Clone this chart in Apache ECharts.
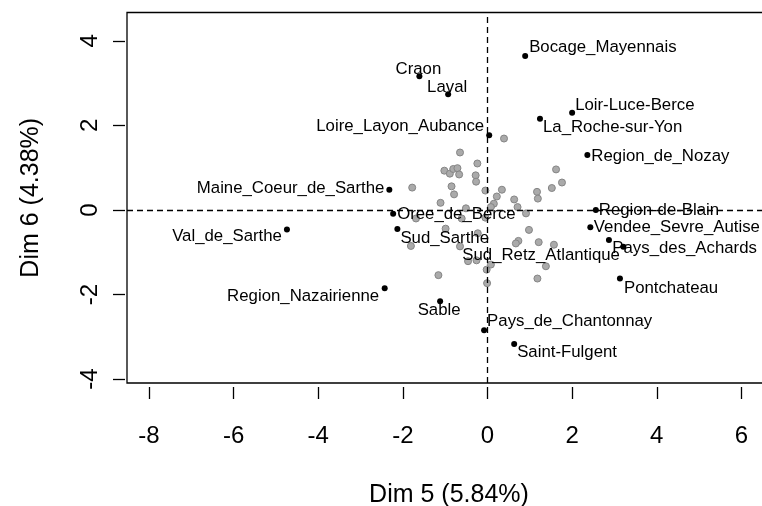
<!DOCTYPE html>
<html>
<head>
<meta charset="utf-8">
<script src="https://cdn.jsdelivr.net/npm/echarts@6/dist/echarts.min.js"></script>
<style>
  html, body { margin: 0; padding: 0; background: #fff; }
  #chart { width: 762px; height: 506px; }
</style>
</head>
<body>
<div id="chart"></div>
<script>
// Individuals on dimensions 5 and 6: labelled territories
const labeledNames = [
  'Bocage_Mayennais', 'Craon', 'Laval', 'Loir-Luce-Berce', 'La_Roche-sur-Yon',
  'Loire_Layon_Aubance', 'Region_de_Nozay', 'Maine_Coeur_de_Sarthe', 'Oree_de_Berce',
  'Val_de_Sarthe', 'Sud_Sarthe', 'Region-de-Blain', 'Vendee_Sevre_Autise',
  'Sud_Retz_Atlantique', 'Pays_des_Achards', 'Pontchateau', 'Region_Nazairienne',
  'Sable', 'Pays_de_Chantonnay', 'Saint-Fulgent'
];
const labeledX = [0.89, -1.61, -0.93, 2.00, 1.24, 0.04, 2.36, -2.32, -2.23, -4.74,
  -2.13, 2.56, 2.43, 2.87, 3.21, 3.13, -2.43, -1.12, -0.08, 0.63];
const labeledY = [3.64, 3.16, 2.74, 2.30, 2.16, 1.77, 1.30, 0.48, -0.09, -0.46,
  -0.45, 0.00, -0.41, -0.71, -0.87, -1.62, -1.85, -2.16, -2.84, -3.17];

// Remaining individuals (unlabelled, grey)
const grayX = [0.39, -0.65, -0.24, -1.02, -0.89, -0.81, -0.71, -0.67, -0.28, -0.27,
  -1.78, -0.85, -0.79, -0.05, 0.34, 0.22, 0.63, -1.11, 0.15, 0.71,
  0.91, -0.51, 0.08, 1.17, 1.19, 1.52, 1.76, 1.62, -1.69, -0.61,
  -0.05, 0.98, 0.73, 0.67, 1.21, 1.57, -0.99, -0.23, -0.65, -1.81,
  -0.46, -0.26, 0.08, -0.02, 1.38, -1.16, 1.18, -0.01];
const grayY = [1.69, 1.36, 1.10, 0.93, 0.86, 0.97, 0.99, 0.84, 0.82, 0.67,
  0.53, 0.56, 0.37, 0.46, 0.48, 0.32, 0.25, 0.17, 0.15, 0.07,
  -0.08, 0.04, 0.07, 0.43, 0.27, 0.52, 0.65, 0.96, -0.20, -0.20,
  -0.18, -0.47, -0.73, -0.79, -0.76, -0.82, -0.44, -0.55, -0.86, -0.85,
  -1.21, -1.19, -1.29, -1.41, -1.33, -1.54, -1.62, -1.73];

// Axis ticks
const xTicks = [-8, -6, -4, -2, 0, 2, 4, 6];
const yTicks = [-4, -2, 0, 2, 4];
const xTitle = 'Dim 5 (5.84%)';
const yTitle = 'Dim 6 (4.38%)';

// Text placement for each label: [align, dx, dy] from its point's centre
const labelPlacement = [
  ['left', 4, -9], ['center', -1, -7], ['center', -1, -7], ['left', 3, -7], ['left', 3, 9],
  ['right', -5, -8.5], ['left', 4, 1], ['right', -5, -1], ['left', 4, 1],
  ['right', -5, 7], ['left', 3, 9], ['left', 3, 0], ['left', 3.5, 0],
  ['right', 11, 15], ['left', -11, 2], ['left', 4, 10], ['right', -5.5, 8],
  ['center', -1, 9], ['left', 3, -9], ['left', 3, 8]
];

const FONT = '"Liberation Sans", Arial, sans-serif';
const DOT = 6;

const grayData = grayX.map((x, i) => [x, grayY[i]]);
const labeledData = labeledNames.map((name, i) => ({
  name: name,
  value: [labeledX[i], labeledY[i]],
  label: {
    align: labelPlacement[i][0],
    // position is measured from the top-left corner of the symbol box
    position: [DOT / 2 + labelPlacement[i][1], DOT / 2 + labelPlacement[i][2]]
  }
}));

const chart = echarts.init(document.getElementById('chart'), null, { renderer: 'canvas' });
chart.setOption({
  animation: false,
  backgroundColor: '#fff',
  grid: {
    left: 127, top: 12.5, width: 644, height: 370.5,
    outerBoundsMode: 'none', containLabel: false,
    show: true, borderColor: '#000', borderWidth: 1.3, backgroundColor: 'transparent'
  },
  xAxis: {
    type: 'value', min: -8.52, max: 6.70, offset: 4,
    splitLine: { show: false },
    axisLine: { show: false, onZero: false },
    axisTick: { show: true, length: 12, customValues: xTicks, lineStyle: { color: '#000', width: 1.3 } },
    axisLabel: { customValues: xTicks, color: '#000', fontSize: 24, fontFamily: FONT, margin: 37 },
    name: xTitle, nameLocation: 'middle', nameGap: 96,
    nameTextStyle: { color: '#000', fontSize: 25, fontFamily: FONT }
  },
  yAxis: {
    type: 'value', min: -4.09, max: 4.67, offset: 2,
    splitLine: { show: false },
    axisLine: { show: false, onZero: false },
    axisTick: { show: true, length: 12, customValues: yTicks, lineStyle: { color: '#000', width: 1.3 } },
    axisLabel: { customValues: yTicks, color: '#000', fontSize: 24, fontFamily: FONT, rotate: 90, margin: 23 },
    name: yTitle, nameLocation: 'middle', nameGap: 81, nameRotate: 90,
    nameTextStyle: { color: '#000', fontSize: 25, fontFamily: FONT }
  },
  series: [
    {
      type: 'scatter', data: grayData, symbol: 'circle', symbolSize: 7,
      itemStyle: { color: '#aaaaaa', borderColor: '#858585', borderWidth: 1, opacity: 1 },
      silent: true, z: 2,
      markLine: {
        silent: true, symbol: 'none', label: { show: false },
        lineStyle: { color: '#000', type: [6, 4], width: 1.3, opacity: 1 },
        data: [{ xAxis: 0 }, { yAxis: 0 }]
      }
    },
    {
      type: 'scatter', data: labeledData, symbol: 'circle', symbolSize: DOT,
      itemStyle: { color: '#000', opacity: 1 }, z: 3,
      label: {
        show: true, formatter: '{b}', opacity: 1, textBorderWidth: 0,
        verticalAlign: 'middle', color: '#000', fontSize: 16.8, fontFamily: FONT
      },
      labelLayout: { hideOverlap: false }
    }
  ]
});
</script>
</body>
</html>
